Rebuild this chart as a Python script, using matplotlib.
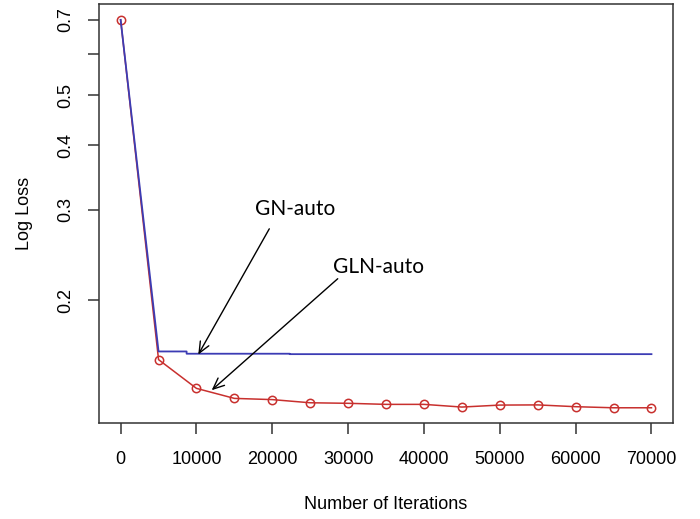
import numpy as np
import matplotlib
matplotlib.use('Agg')
import matplotlib.pyplot as plt
from matplotlib.ticker import FixedLocator, NullLocator

## DATOS ##
iterations = [0, 5000, 10000, 15000, 20000, 25000, 30000, 35000,
              40000, 45000, 50000, 55000, 60000, 65000, 70000]
gln_loss = [0.700, 0.1535, 0.1350, 0.1291, 0.1284, 0.1266, 0.1263, 0.1257,
            0.1257, 0.1242, 0.1253, 0.1254, 0.1244, 0.1238, 0.1238]

gn_iter = [0, 5000, 8700, 8700, 22300, 22300, 70000]
gn_loss = [0.700, 0.1592, 0.1592, 0.1576, 0.1576, 0.1573, 0.1573]

y_ticks = [0.2, 0.3, 0.4, 0.5, 0.6, 0.7]
y_labels = ['0.2', '0.3', '0.4', '0.5', '', '0.7']
x_ticks = [0, 10000, 20000, 30000, 40000, 50000, 60000, 70000]
## DATOS ##

plt.rcParams['font.family'] = ['Liberation Sans', 'DejaVu Sans']

fig = plt.figure(figsize=(7.0, 5.19), dpi=100)
ax = fig.add_axes([0.142, 0.1844, 0.819, 0.8073])

red = '#c8302e'
blue = '#3c3cb4'
ax.plot(iterations, gln_loss, color=red, lw=1.1, marker='o', ms=6,
        mfc='none', mec=red, mew=1.1, zorder=2)
ax.plot(gn_iter, gn_loss, color=blue, lw=1.3, zorder=3)

# limites estilo R (4% extra)
xmin, xmax = 0, 70000
ax.set_xlim(xmin - 0.04 * (xmax - xmin), xmax + 0.04 * (xmax - xmin))
lo = np.log(min(gln_loss + gn_loss))
hi = np.log(max(gln_loss + gn_loss))
pad = 0.04 * (hi - lo)
ax.set_yscale('log')
ax.set_ylim(np.exp(lo - pad), np.exp(hi + pad))

ax.yaxis.set_major_locator(FixedLocator(y_ticks))
ax.yaxis.set_minor_locator(NullLocator())
ax.set_yticklabels(y_labels, rotation=90, va='center')
ax.set_xticks(x_ticks)
ax.set_xticklabels([str(t) for t in x_ticks])

for s in ax.spines.values():
    s.set_color('#333333')
    s.set_linewidth(1.1)
ax.tick_params(axis='both', length=7.7, width=1.1, color='#333333',
               labelsize=13)
ax.tick_params(axis='x', pad=12.6)
ax.tick_params(axis='y', pad=10.5)

ax.set_xlabel('Number of Iterations', fontsize=13, labelpad=19.6)
ax.set_ylabel('Log Loss', fontsize=13, labelpad=17.6)

# anotaciones
arrow = dict(arrowstyle='->,head_length=0.8,head_width=0.35', lw=1.0,
             color='black', shrinkA=0, shrinkB=0)
ax.annotate('', xy=(10237, 0.1570), xytext=(19604, 0.2753), arrowprops=arrow)
ax.annotate('', xy=(12005, 0.1339), xytext=(28628, 0.2203), arrowprops=arrow)
ax.text(22995, 0.3001, 'GN-auto', family=['Lato', 'DejaVu Sans'],
        fontsize=15, ha='center', va='center')
ax.text(34037, 0.2320, 'GLN-auto', family=['Lato', 'DejaVu Sans'],
        fontsize=15, ha='center', va='center')

plt.savefig('out.png', dpi=100)
